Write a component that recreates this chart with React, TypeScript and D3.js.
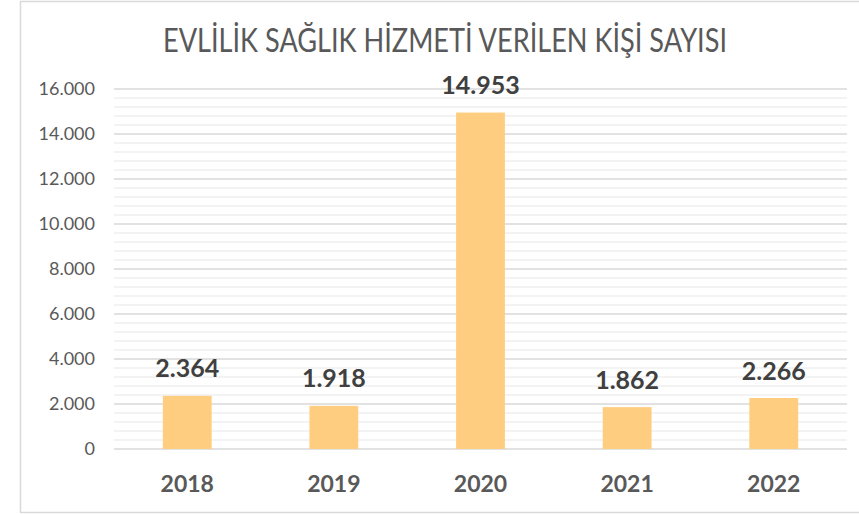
import React from "react";
import * as d3 from "d3";

const title = "EVLİLİK SAĞLIK HİZMETİ VERİLEN KİŞİ SAYISI";
const categories = ["2018", "2019", "2020", "2021", "2022"];
const values = [2364, 1918, 14953, 1862, 2266];
const yTicks = [0, 2000, 4000, 6000, 8000, 10000, 12000, 14000, 16000];

const W = 859;
const H = 514;
const margin = { left: 114, right: 12, top: 89, bottom: 65 };

const fmt = (v: number) => d3.format(",")(v).replace(/,/g, ".");

export default function App() {
  const x = d3
    .scaleBand<string>()
    .domain(categories)
    .range([margin.left, W - margin.right])
    .paddingInner(0.667)
    .paddingOuter(0.333);
  const y = d3.scaleLinear().domain([0, 16000]).range([H - margin.bottom, margin.top]);
  const minor = d3.range(0, 16000, 400).filter((v) => v % 2000 !== 0);
  const font = "Lato, 'Open Sans', sans-serif";

  return (
    <svg
      width={W}
      height={H}
      style={{ position: "absolute", left: 0, top: 0, background: "#fff" }}
      fontFamily={font}
    >
      <rect x={20.5} y={1.5} width={900} height={511} fill="#fff" stroke="#D9D9D9" strokeWidth={1.5} />
      <text
        x={445}
        y={52}
        textAnchor="middle"
        fontSize={32}
        fontWeight={400}
        fill="#595959"
        textLength={564}
        lengthAdjust="spacingAndGlyphs"
      >
        {title}
      </text>
      {minor.map((v) => (
        <line key={"m" + v} x1={margin.left} x2={W - margin.right} y1={y(v)} y2={y(v)} stroke="#EFEFEF" strokeWidth={1.5} />
      ))}
      {yTicks.map((v) => (
        <g key={v}>
          <line x1={margin.left} x2={W - margin.right} y1={y(v)} y2={y(v)} stroke="#D9D9D9" strokeWidth={1.5} />
          <text x={95} y={y(v)} dy="0.36em" textAnchor="end" fontSize={18} fill="#595959">
            {fmt(v)}
          </text>
        </g>
      ))}
      {categories.map((c, i) => (
        <g key={c}>
          <rect x={x(c)} y={y(values[i])} width={x.bandwidth()} height={y(0) - y(values[i])} fill="#FFCD80" />
          <text
            x={(x(c) as number) + x.bandwidth() / 2}
            y={y(values[i]) - 18.5}
            textAnchor="middle"
            fontSize={25}
            fontWeight="bold"
            fill="#404040"
          >
            {fmt(values[i])}
          </text>
          <text
            x={(x(c) as number) + x.bandwidth() / 2}
            y={492}
            textAnchor="middle"
            fontSize={23}
            fontWeight="bold"
            fill="#595959"
          >
            {c}
          </text>
        </g>
      ))}
    </svg>
  );
}
